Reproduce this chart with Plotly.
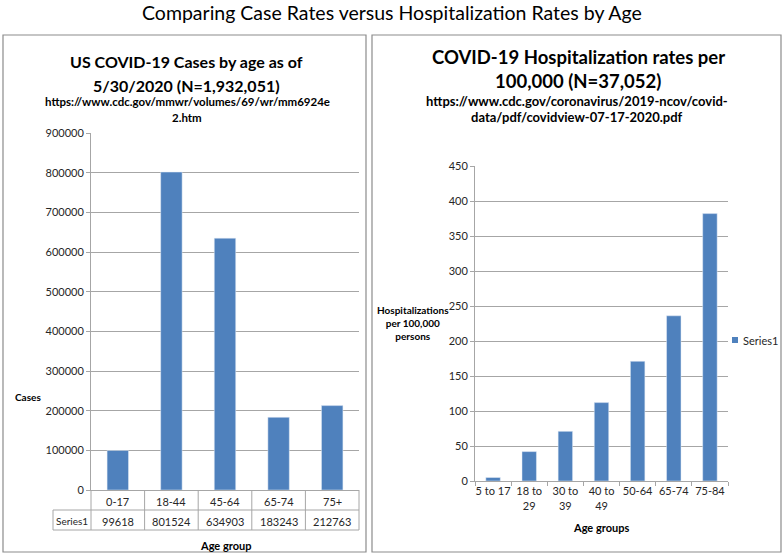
import plotly.graph_objects as go

# ---- data ----
case_groups = ["0-17", "18-44", "45-64", "65-74", "75+"]
case_values = [99618, 801524, 634903, 183243, 212763]

hosp_groups = ["5 to 17", "18 to<br>29", "30 to<br>39", "40 to<br>49", "50-64", "65-74", "75-84"]
hosp_values = [5, 42, 71, 112, 171, 236, 382]

series_name = "Series1"

W, H = 784, 555
BLUE = "#4F81BD"
GRID = "#A6A6A6"
TXT = "#262626"
FONT = "Lato"

def px(x):
    return x / W

def py(y):
    return 1 - y / H

fig = go.Figure()

fig.add_trace(go.Bar(x=case_groups, y=case_values, marker_color=BLUE, name=series_name,
                     xaxis="x", yaxis="y", showlegend=False))
fig.add_trace(go.Bar(x=hosp_groups, y=hosp_values, marker_color=BLUE, name=series_name,
                     xaxis="x2", yaxis="y2", showlegend=False))

axis_common = dict(showline=True, linecolor=GRID, linewidth=1, zeroline=False,
                   automargin=False,
                   tickfont=dict(family=FONT, size=11, color=TXT), fixedrange=True)

fig.update_layout(
    width=W, height=H, autosize=False,
    margin=dict(l=0, r=0, t=0, b=0, pad=0),
    paper_bgcolor="white", plot_bgcolor="white",
    font=dict(family=FONT, color=TXT),
    bargap=0.6,
    showlegend=False,
    xaxis=dict(domain=[px(91), px(359)], anchor="y", showticklabels=False, ticks="",
               **axis_common),
    yaxis=dict(domain=[py(490), py(133)], anchor="x", range=[0, 900000], dtick=100000,
               tickformat="d",
               showgrid=True, gridcolor=GRID, gridwidth=1, ticks="outside", ticklen=4,
               tickcolor=GRID, **axis_common),
    xaxis2=dict(domain=[px(475), px(728)], anchor="y2", ticks="outside", ticklen=4,
                tickangle=0, tickcolor=GRID, tickson="boundaries", **axis_common),
    yaxis2=dict(domain=[py(481), py(166)], anchor="x2", range=[0, 450], dtick=50,
                showgrid=True, gridcolor=GRID, gridwidth=1, ticks="outside", ticklen=4,
                tickcolor=GRID, **axis_common),
)

shapes = []
annotations = []

def ann(x, y, text, size, bold=False, xanchor="center", color="black", align="center"):
    t = f"<b>{text}</b>" if bold else text
    annotations.append(dict(xref="paper", yref="paper", x=px(x), y=py(y), text=t,
                            showarrow=False, xanchor=xanchor, yanchor="middle", align=align,
                            font=dict(family=FONT, size=size, color=color)))

# panel borders
shapes.append(dict(type="rect", xref="paper", yref="paper", x0=px(3), x1=px(366),
                   y0=py(552), y1=py(35), line=dict(color="#8C8C8C", width=1.2)))
shapes.append(dict(type="rect", xref="paper", yref="paper", x0=px(372), x1=px(781),
                   y0=py(552), y1=py(35), line=dict(color="#8C8C8C", width=1.2)))

# data table under left chart
n = len(case_groups)
plot_l, plot_r = 91, 359
slot = (plot_r - plot_l) / n
row_top, row_mid, row_bot = 490, 510, 530
tbl_left = 53
for y in (row_mid, row_bot):
    shapes.append(dict(type="line", xref="paper", yref="paper", x0=px(tbl_left), x1=px(plot_r),
                       y0=py(y), y1=py(y), line=dict(color=GRID, width=1)))
shapes.append(dict(type="line", xref="paper", yref="paper", x0=px(tbl_left), x1=px(tbl_left),
                   y0=py(row_bot), y1=py(row_mid), line=dict(color=GRID, width=1)))
for i in range(n + 1):
    xl = plot_l + i * slot
    shapes.append(dict(type="line", xref="paper", yref="paper", x0=px(xl), x1=px(xl),
                       y0=py(row_bot), y1=py(row_top), line=dict(color=GRID, width=1)))
for i, (g, v) in enumerate(zip(case_groups, case_values)):
    xc = plot_l + (i + 0.5) * slot
    ann(xc, (row_top + row_mid) / 2 + 1, g, 11, color=TXT)
    ann(xc, (row_mid + row_bot) / 2 + 1, str(v), 11, color=TXT)
ann((tbl_left + plot_l) / 2, (row_mid + row_bot) / 2 + 1, series_name, 10, color=TXT)

# overall title
ann(392, 13, "Comparing Case Rates versus Hospitalization Rates by Age", 19.5)

# left titles
ann(186, 62, "US COVID-19 Cases by age as of", 16, True)
ann(186, 85, "5/30/2020 (N=1,932,051)", 16, True)
ann(187, 101, "https://www.cdc.gov/mmwr/volumes/69/wr/mm6924e", 11.5, True)
ann(187, 117, "2.htm", 11.5, True)
ann(28, 397, "Cases", 10, True)
ann(225, 545, "Age group", 11, True)

# right titles
ann(578, 57, "COVID-19 Hospitalization rates per", 18.5, True)
ann(578, 81, "100,000 (N=37,052)", 18.5, True)
ann(577, 101, "https://www.cdc.gov/coronavirus/2019-ncov/covid-", 13, True)
ann(577, 117, "data/pdf/covidview-07-17-2020.pdf", 13, True)
ann(413, 323, "Hospitalizations<br>per 100,000<br>persons", 10, True)
ann(601, 527, "Age groups", 11, True)

# legend (series key)
shapes.append(dict(type="rect", xref="paper", yref="paper", x0=px(732), x1=px(738),
                   y0=py(343), y1=py(337), fillcolor=BLUE, line=dict(width=0)))
ann(741, 340, series_name, 11, False, xanchor="left", color=TXT)

fig.update_layout(shapes=shapes, annotations=annotations)

post = (
    "document.documentElement.style.margin='0';"
    "document.documentElement.style.padding='0';"
    "document.documentElement.style.overflow='hidden';"
    "document.body.style.margin='0';"
    "document.body.style.padding='0';"
    "document.body.style.overflow='hidden';"
)

fig.write_html("out.html", post_script=post, config={"displayModeBar": False})
